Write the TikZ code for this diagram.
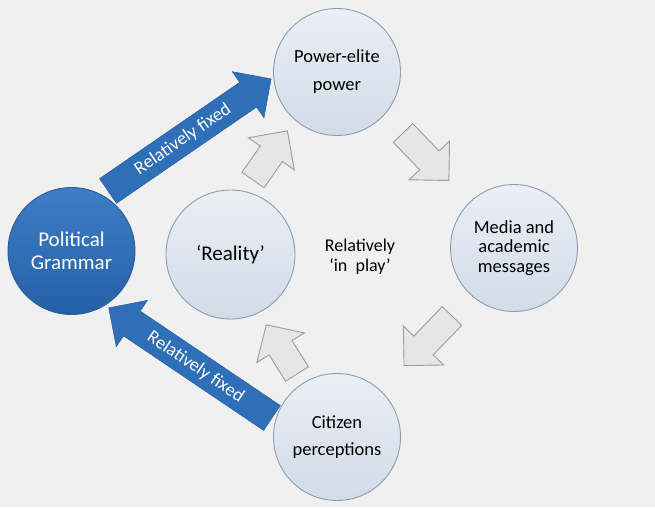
\documentclass[tikz,border=0pt]{standalone}
\usepackage{fontspec}
\setmainfont{Carlito}
\usetikzlibrary{calc}
\definecolor{bgc}{HTML}{F0F0F0}
\definecolor{ctop}{HTML}{EAEFF5}
\definecolor{cbot}{HTML}{D2DBE7}
\definecolor{cborder}{HTML}{8C9DB2}
\definecolor{btop}{HTML}{3D7EC5}
\definecolor{bbot}{HTML}{2660A6}
\definecolor{bborder}{HTML}{2A5C98}
\definecolor{barrow}{HTML}{2F6FB7}
\definecolor{garrow}{HTML}{E6E6E6}
\definecolor{gborder}{HTML}{9C9C9C}
\pgfdeclarelayer{bglayer}
\pgfdeclarelayer{arrowlayer}
\pgfsetlayers{bglayer,arrowlayer,main}
% #1 tail coordinate name, #2 angle, #3 length, #4 body width, #5 head width, #6 head length, #7 style
\newcommand\blockarrow[7]{%
  \begin{scope}[shift={(#1)}, rotate=#2]
    \path[#7] (0,{-#4/2}) -- ({#3-#6},{-#4/2}) -- ({#3-#6},{-#5/2}) -- (#3,0)
      -- ({#3-#6},{#5/2}) -- ({#3-#6},{#4/2}) -- (0,{#4/2}) -- cycle;
  \end{scope}}
\tikzset{
  lightcirc/.style={circle, minimum size=127pt, inner sep=0pt, draw=cborder,
    line width=0.9pt, top color=ctop, bottom color=cbot, text=black, align=center},
  bluecirc/.style={circle, minimum size=127pt, inner sep=0pt, draw=bborder,
    line width=0.9pt, top color=btop, bottom color=bbot, text=white, align=center},
  bluearrow/.style={fill=barrow, draw=barrow!85!black, line width=0.4pt},
  bluearrowshadow/.style={fill=black, opacity=0.18},
  grayarrow/.style={fill=garrow, draw=gborder, line width=0.9pt, line join=miter},
  fixedlabel/.style={text=white, font=\fontsize{18.5}{20}\selectfont, inner sep=0pt}
}
\begin{document}
\begin{tikzpicture}[x=1pt, y=-1pt]
\useasboundingbox (0,0) rectangle (655,507);
\begin{pgfonlayer}{bglayer}
  \fill[bgc] (0,0) rectangle (655,507);
\end{pgfonlayer}

% circles
\node[lightcirc, font=\fontsize{18.5}{28}\selectfont] (pe) at (337,72) {Power-elite\\power};
\node[lightcirc, font=\fontsize{18.5}{19.5}\selectfont] (me) at (514,248) {Media and\\academic\\messages};
\node[lightcirc, font=\fontsize{18.5}{27}\selectfont] (ci) at (337,437) {Citizen\\perceptions};
\node[lightcirc, minimum size=129pt, font=\fontsize{21}{24}\selectfont] (re) at (230.5,254.5) {‘Reality’};
\node[bluecirc, font=\fontsize{21}{23.5}\selectfont] (pg) at (71.5,251) {Political\\Grammar};
\node[font=\fontsize{18}{20}\selectfont, align=center] (ip) at (360,257) {Relatively\\‘in~ play’};

% arrow tails
\coordinate (tup) at (108,191);
\coordinate (tlo) at (272,418);
\coordinate (g1) at (253,180);
\coordinate (g2) at (403,133);
\coordinate (g3) at (452,316);
\coordinate (g4) at (297,374);

\begin{pgfonlayer}{arrowlayer}
  % blue arrows with shadow
  \begin{scope}[shift={(2,3)}]
    \blockarrow{tup}{34.5}{198}{30}{56}{28}{bluearrowshadow}
    \blockarrow{tlo}{146}{197}{30}{56}{28}{bluearrowshadow}
  \end{scope}
  \blockarrow{tup}{34.5}{198}{30}{56}{28}{bluearrow}
  \blockarrow{tlo}{146}{197}{30}{56}{28}{bluearrow}
  % gray cycle arrows
  \blockarrow{g1}{55}{60}{27}{56}{28}{grayarrow}
  \blockarrow{g2}{-46}{66}{27}{56}{28}{grayarrow}
  \blockarrow{g3}{-134}{69}{27}{56}{28}{grayarrow}
  \blockarrow{g4}{122}{58}{27}{56}{27}{grayarrow}
\end{pgfonlayer}

% labels on blue arrows
\node[fixedlabel, rotate=34.5] (lup) at ($(tup)+(75,-51.5)$) {Relatively fixed};
\node[fixedlabel, rotate=-34] (llo) at ($(tlo)+(-76.5,-51)$) {Relatively fixed};
\end{tikzpicture}
\end{document}
